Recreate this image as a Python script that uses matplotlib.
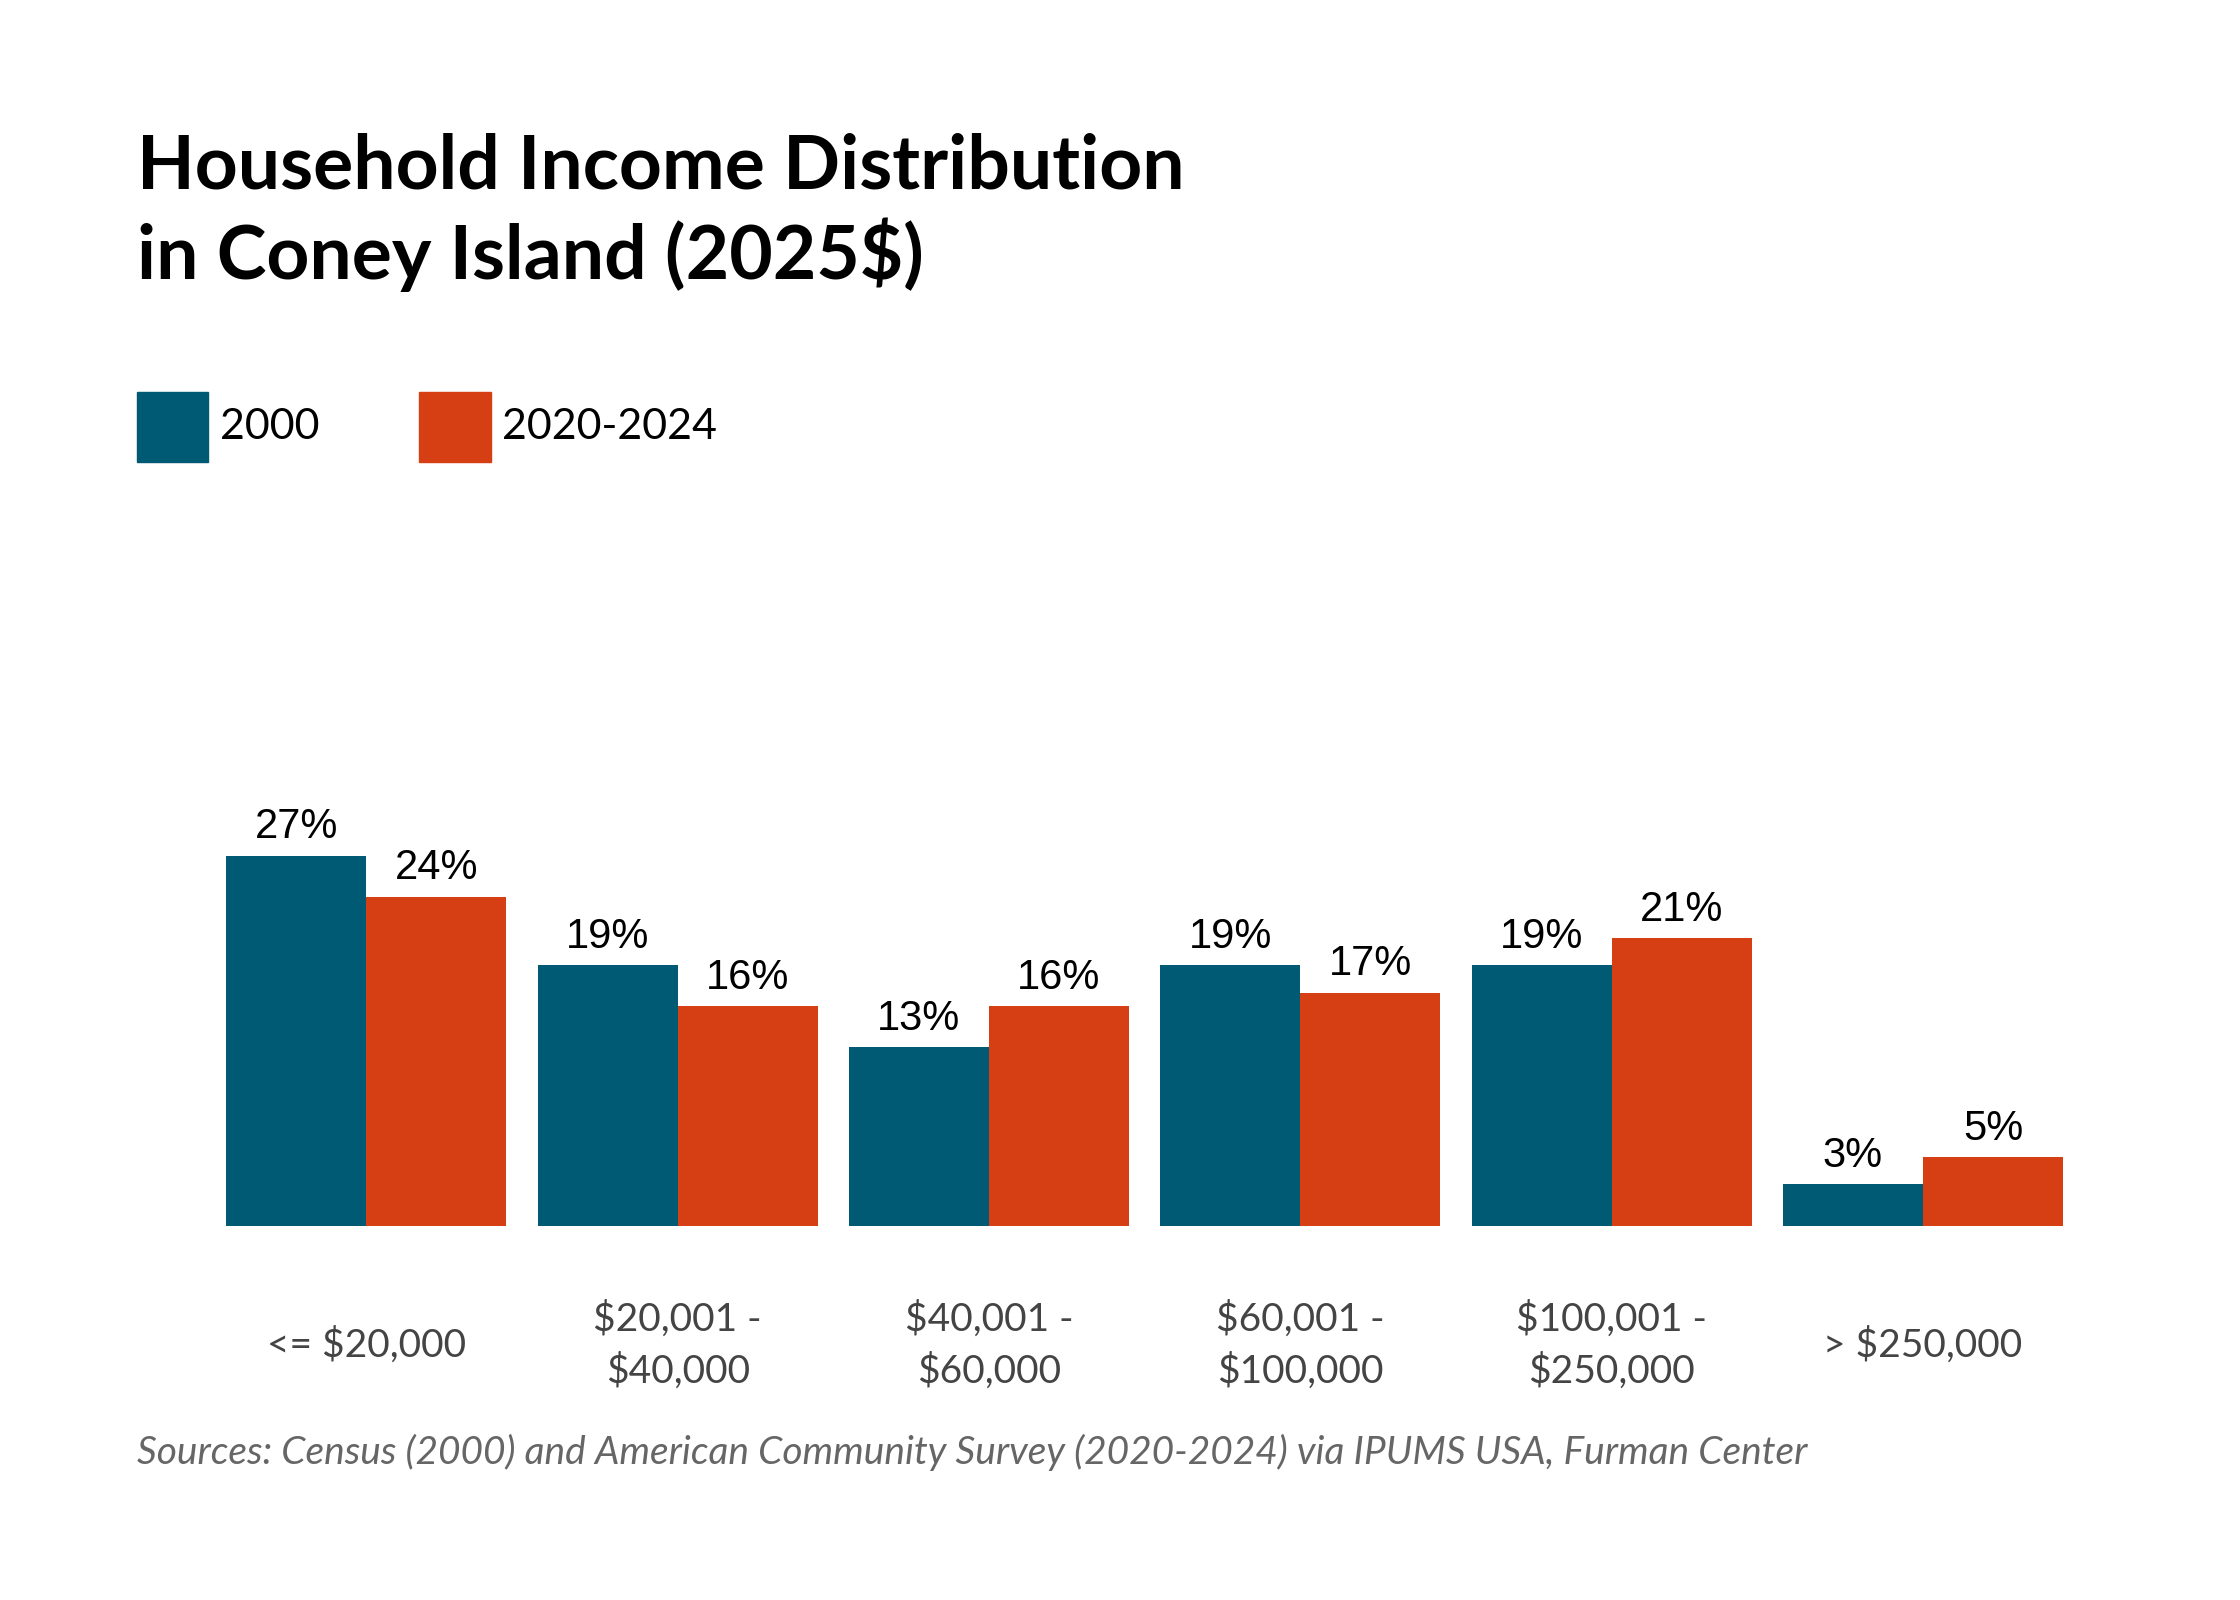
import matplotlib
matplotlib.use("Agg")
import matplotlib.pyplot as plt
import numpy as np

categories = ["<= $20,000", "$20,001 -\n$40,000", "$40,001 -\n$60,000",
              "$60,001 -\n$100,000", "$100,001 -\n$250,000", "> $250,000"]
series_names = ["2000", "2020-2024"]
values_2000 = [27, 19, 13, 19, 19, 3]
values_2024 = [24, 16, 16, 17, 21, 5]
colors = ["#005a73", "#d63f13"]

fig = plt.figure(figsize=(22.4, 16), dpi=100)
ax = fig.add_axes([0.101, 0.234, 0.820, 0.257])

x = np.arange(len(categories))
w = 0.45
for vals, off, c in [(values_2000, -w / 2, colors[0]), (values_2024, w / 2, colors[1])]:
    bars = ax.bar(x + off, vals, width=w, color=c)
    for b, v in zip(bars, vals):
        ax.text(b.get_x() + b.get_width() / 2, v + 0.6, f"{v}%", ha="center", va="bottom",
                fontsize=30, family="Liberation Sans", color="black")

ax.set_xlim(-0.45, len(categories) - 0.55)
ax.set_ylim(0, 30)
ax.axis("off")

for xi, lab in zip(x, categories):
    ax.text(xi, -0.29, lab, transform=ax.get_xaxis_transform(), ha="center", va="center",
            fontsize=28, family="Lato", color="#444444", linespacing=1.5)

fig.text(0.061, 0.917, "Household Income Distribution\nin Coney Island (2025$)",
         fontsize=54, fontweight="bold", family="Lato", va="top", linespacing=1.25)

# legend
for i, (name, c) in enumerate(zip(series_names, colors)):
    lx = 0.061 + i * 0.126
    fig.patches.append(plt.Rectangle((lx, 0.711), 0.032, 0.044, transform=fig.transFigure,
                                     color=c))
    fig.text(lx + 0.037, 0.733, name, fontsize=31, family="Lato", va="center")

fig.text(0.061, 0.092, "Sources: Census (2000) and American Community Survey (2020-2024) via IPUMS USA, Furman Center",
         fontsize=28, family="Lato", style="italic", color="#666666", va="center")

fig.savefig("out.png", dpi=100, facecolor="white")
